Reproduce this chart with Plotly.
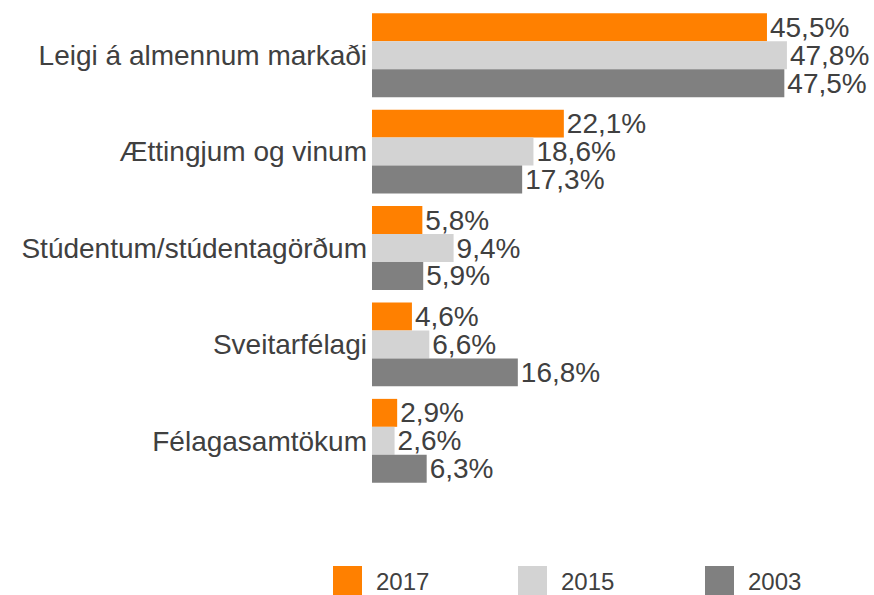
import plotly.graph_objects as go

categories = [
    "Leigi á almennum markaði",
    "Ættingjum og vinum",
    "Stúdentum/stúdentagörðum",
    "Sveitarfélagi",
    "Félagasamtökum",
]
years = ["2017", "2015", "2003"]
values_2017 = [45.5, 22.1, 5.8, 4.6, 2.9]
values_2015 = [47.8, 18.6, 9.4, 6.6, 2.6]
values_2003 = [47.5, 17.3, 5.9, 16.8, 6.3]
colors = ["#FF8000", "#D3D3D3", "#808080"]

W, H = 874, 595
ML, MR, MT, MB = 372, 0, 7, 106
TEXT = "#404040"
FONT = "Liberation Sans, Arial, sans-serif"


def fmt(v):
    return f"{v:.1f}".replace(".", ",") + "%"


fig = go.Figure()
for year, vals, col in zip(years, [values_2017, values_2015, values_2003], colors):
    fig.add_trace(
        go.Bar(
            y=categories,
            x=vals,
            orientation="h",
            name=year,
            marker=dict(color=col, line=dict(width=0)),
            text=[fmt(v) for v in vals],
            textposition="outside",
            textfont=dict(size=28, color=TEXT, family=FONT),
            constraintext="none",
            cliponaxis=False,
            showlegend=False,
        )
    )

# ── Legend drawn by hand (large square swatches) ────────────────────────────
plot_w = W - ML - MR
plot_h = H - MT - MB


def px_x(X):
    return (X - ML) / plot_w


def px_y(Y):
    return (H - MB - Y) / plot_h


for year, col, sx in zip(years, colors, [333, 518, 705]):
    fig.add_shape(
        type="rect", xref="paper", yref="paper",
        x0=px_x(sx), x1=px_x(sx + 29), y0=px_y(566), y1=px_y(600),
        fillcolor=col, line=dict(width=0),
    )
    fig.add_annotation(
        xref="paper", yref="paper", x=px_x(sx + 41), y=px_y(581),
        text=year, showarrow=False, xanchor="left", yanchor="middle",
        font=dict(size=24, color=TEXT, family=FONT),
    )

fig.update_layout(
    width=W,
    height=H,
    barmode="group",
    bargap=0.13,
    bargroupgap=0,
    plot_bgcolor="white",
    paper_bgcolor="white",
    margin=dict(l=ML, r=MR, t=MT, b=MB),
    font=dict(family=FONT, color=TEXT),
    xaxis=dict(
        range=[0, 57.83], visible=False, showgrid=False, zeroline=False,
    ),
    yaxis=dict(
        autorange="reversed", showgrid=False, zeroline=False, showline=False,
        ticks="", tickfont=dict(size=28, color=TEXT, family=FONT),
        ticklabelstandoff=4,
    ),
)

fig.write_html(
    "out.html",
    config={"displayModeBar": False},
    post_script="document.body.style.margin='0';",
)
